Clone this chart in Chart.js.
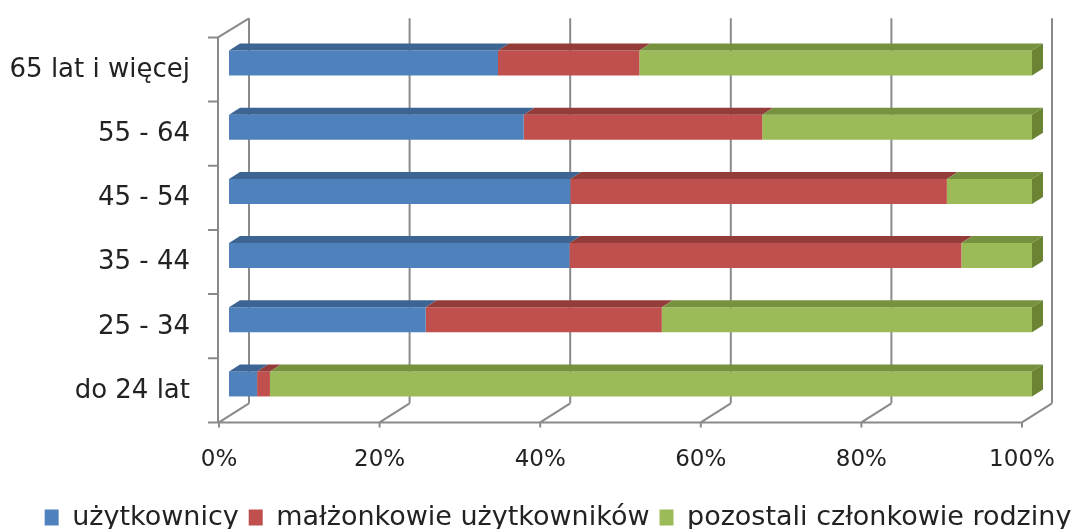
<!DOCTYPE html>
<html>
<head>
<meta charset="utf-8">
<script src="https://cdn.jsdelivr.net/npm/chart.js@4/dist/chart.umd.min.js"></script>
<style>
  html, body { margin: 0; padding: 0; background: #fff; }
  #wrap { width: 1078px; height: 529px; }
</style>
</head>
<body>
<div id="wrap"><canvas id="myChart"></canvas></div>
<script>
// dane (udział w %)
var kategorie = ["65 lat i więcej", "55 - 64", "45 - 54", "35 - 44", "25 - 34", "do 24 lat"];
var uzytkownicy = [33.5, 36.7, 42.5, 42.4, 24.5, 3.5];
var malzonkowie = [17.6, 29.7, 46.9, 48.8, 29.4, 1.6];
var pozostali = [48.9, 33.6, 10.6, 8.8, 46.1, 94.9];
var nazwySerii = ["użytkownicy", "małżonkowie użytkowników", "pozostali członkowie rodziny"];
var xTicks = [0, 20, 40, 60, 80, 100];

var kolory = ["#4F81BD", "#C0504D", "#9BBB59"];
var koloryGora = ["#3D6594", "#943C3A", "#77923F"];
var bokZielony = "#6A8434";

// glebokosc 3D
var DX = 11, DY = 7;
var FX = -10, FY = 6.4;   // przednia krawedz podlogi / sciany
var BX = 20, BY = -12.7;  // tylna sciana

var ramka = {
  id: 'ramka',
  beforeDatasetsDraw: function(chart) {
    var ctx = chart.ctx, a = chart.chartArea, xs = chart.scales.x;
    ctx.save();
    ctx.strokeStyle = '#8a8a8a';
    ctx.lineWidth = 2;
    ctx.beginPath();
    // linie siatki na tylnej scianie
    xTicks.forEach(function(v) {
      var x = xs.getPixelForValue(v);
      ctx.moveTo(x + BX, a.top + BY);
      ctx.lineTo(x + BX, a.bottom + BY);
      // podloga - skosy i znaczniki
      ctx.moveTo(x + FX, a.bottom + FY + 5);
      ctx.lineTo(x + FX, a.bottom + FY);
      ctx.lineTo(x + BX, a.bottom + BY);
    });
    // przednia krawedz podlogi
    ctx.moveTo(xs.getPixelForValue(0) + FX, a.bottom + FY);
    ctx.lineTo(xs.getPixelForValue(100) + FX, a.bottom + FY);
    // lewa sciana
    var x0 = xs.getPixelForValue(0);
    ctx.moveTo(x0 + FX - 1, a.bottom + FY);
    ctx.lineTo(x0 + FX - 1, a.top + FY);
    ctx.lineTo(x0 + BX, a.top + BY);
    var krok = (a.bottom - a.top) / kategorie.length;
    for (var i = 0; i <= kategorie.length; i++) {
      var y = a.top + i * krok + FY;
      ctx.moveTo(x0 + FX - 11, y);
      ctx.lineTo(x0 + FX - 1, y);
    }
    ctx.stroke();
    ctx.restore();
  },
  afterDatasetsDraw: function(chart) {
    var ctx = chart.ctx;
    ctx.save();
    chart.data.datasets.forEach(function(ds, di) {
      var meta = chart.getDatasetMeta(di);
      meta.data.forEach(function(bar) {
        var p = bar.getProps(['x', 'y', 'base', 'height'], true);
        var top = p.y - p.height / 2, bot = p.y + p.height / 2;
        var l = Math.min(p.base, p.x), r = Math.max(p.base, p.x);
        ctx.fillStyle = koloryGora[di];
        ctx.beginPath();
        ctx.moveTo(l, top);
        ctx.lineTo(r, top);
        ctx.lineTo(r + DX, top - DY);
        ctx.lineTo(l + DX, top - DY);
        ctx.closePath();
        ctx.fill();
        if (di === chart.data.datasets.length - 1) {
          ctx.fillStyle = bokZielony;
          ctx.beginPath();
          ctx.moveTo(r, top);
          ctx.lineTo(r + DX, top - DY);
          ctx.lineTo(r + DX, bot - DY);
          ctx.lineTo(r, bot);
          ctx.closePath();
          ctx.fill();
        }
      });
    });
    ctx.restore();
  }
};

var serie = [uzytkownicy, malzonkowie, pozostali];

new Chart("myChart", {
  type: "bar",
  data: {
    labels: kategorie,
    datasets: serie.map(function(d, i) {
      return {
        label: nazwySerii[i],
        data: d,
        backgroundColor: kolory[i],
        borderWidth: 0,
        barPercentage: 0.39,
        categoryPercentage: 1
      };
    })
  },
  options: {
    indexAxis: 'y',
    responsive: true,
    maintainAspectRatio: false,
    animation: false,
    layout: { padding: { left: 0, right: -38, top: 31, bottom: -12 } },
    scales: {
      x: {
        stacked: true,
        min: 0,
        max: 100,
        grid: { display: false },
        border: { display: false },
        afterBuildTicks: function(s) { s.ticks = xTicks.map(function(v) { return { value: v }; }); },
        afterFit: function(s) { s.height = 78; s.paddingLeft = 0; s.paddingRight = 0; },
        ticks: {
          labelOffset: -10,
          padding: 22,
          color: '#222',
          font: { family: 'DejaVu Sans', size: 23 },
          callback: function(v) { return v + '%'; }
        }
      },
      y: {
        stacked: true,
        grid: { display: false },
        border: { display: false },
        afterFit: function(s) { s.width = 229; s.paddingTop = 0; s.paddingBottom = 0; },
        ticks: {
          labelOffset: 7,
          padding: 31,
          color: '#222',
          font: { family: 'DejaVu Sans', size: 26 }
        }
      },
      // pusta os po prawej - tylko rezerwuje miejsce
      y2: {
        type: 'category',
        position: 'right',
        labels: kategorie,
        grid: { display: false },
        border: { display: false },
        ticks: { display: false },
        afterFit: function(s) { s.width = 84; s.paddingTop = 0; s.paddingBottom = 0; }
      }
    },
    plugins: {
      legend: {
        position: 'bottom',
        labels: {
          boxWidth: 14,
          boxHeight: 16,
          padding: 10,
          color: '#222',
          font: { family: 'DejaVu Sans', size: 27 }
        }
      },
      tooltip: { enabled: false }
    }
  },
  plugins: [ramka]
});
</script>
</body>
</html>
